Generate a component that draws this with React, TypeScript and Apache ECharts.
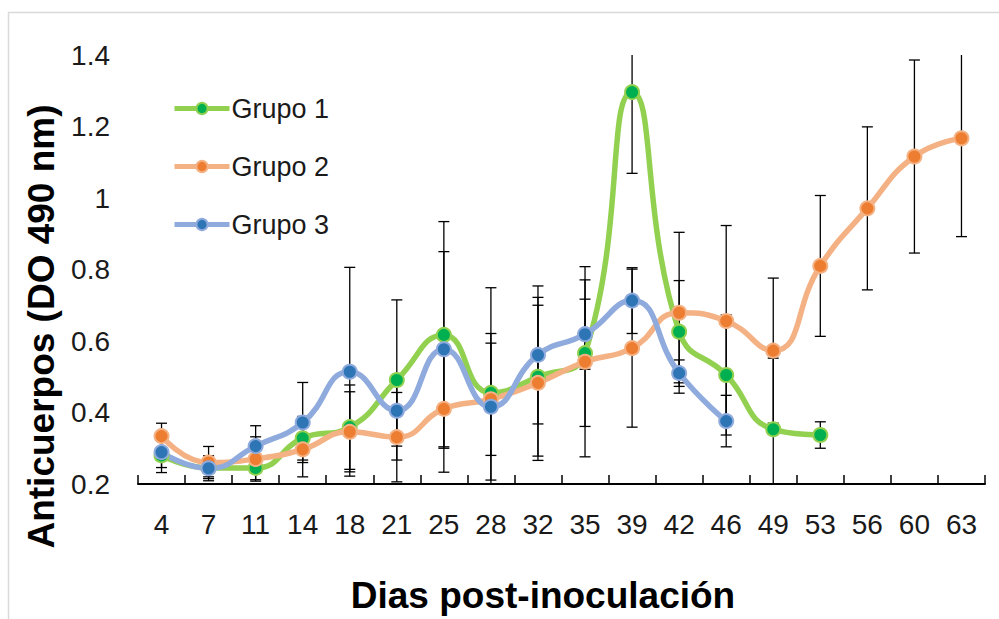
import React, { useEffect, useRef } from "react";
import * as echarts from "echarts";

const days = ["4", "7", "11", "14", "18", "21", "25", "28", "32", "35", "39", "42", "46", "49", "53", "56", "60", "63"];

const grupo1 = [0.28, 0.245, 0.245, 0.328, 0.359, 0.491, 0.617, 0.455, 0.5, 0.566, 1.296, 0.626, 0.505, 0.353, 0.337, null, null, null];
const grupo1Err = [0.048, 0.025, 0.033, 0.061, 0.118, 0.224, 0.317, 0.294, 0.222, 0.205, 0.227, 0.143, 0.168, 0.199, 0.037, null, null, null];

const grupo2 = [0.334, 0.26, 0.27, 0.297, 0.346, 0.331, 0.41, 0.437, 0.483, 0.542, 0.58, 0.679, 0.656, 0.573, 0.81, 0.971, 1.116, 1.167];
const grupo2Err = [0.036, 0.045, 0.062, 0.077, 0.112, 0.125, 0.177, 0.157, 0.217, 0.266, 0.221, 0.225, 0.267, 0.203, 0.197, 0.228, 0.27, 0.275];

const grupo3 = [0.289, 0.244, 0.306, 0.372, 0.514, 0.405, 0.577, 0.416, 0.561, 0.619, 0.713, 0.51, 0.376, null, null, null, null, null];
const grupo3Err = [0.043, 0.035, 0.057, 0.112, 0.292, 0.099, 0.273, 0.205, 0.193, 0.098, 0.092, 0.037, 0.072, null, null, null, null, null];

const yTicks = { min: 0.2, max: 1.4, interval: 0.2 };

const FONT = "'Liberation Sans', Arial, sans-serif";

function errSeries(name: string, vals: (number | null)[], errs: (number | null)[]) {
  const data: number[][] = [];
  vals.forEach((v, i) => {
    const e = errs[i];
    if (v != null && e != null) data.push([i, v - e, v + e]);
  });
  return {
    type: "custom",
    name: name + " err",
    data,
    encode: { x: 0, y: [1, 2] },
    clip: true,
    silent: true,
    z: 1,
    renderItem: (params: any, api: any) => {
      const x = api.value(0);
      const lo = api.coord([x, api.value(1)]);
      const hi = api.coord([x, api.value(2)]);
      const cw = 5.5;
      const st = { stroke: "#000", lineWidth: 1.3 };
      return {
        type: "group",
        children: [
          { type: "line", shape: { x1: lo[0], y1: lo[1], x2: hi[0], y2: hi[1] }, style: st },
          { type: "line", shape: { x1: lo[0] - cw, y1: lo[1], x2: lo[0] + cw, y2: lo[1] }, style: st },
          { type: "line", shape: { x1: hi[0] - cw, y1: hi[1], x2: hi[0] + cw, y2: hi[1] }, style: st },
        ],
      };
    },
  };
}

function lineSeries(name: string, vals: (number | null)[], lineColor: string, dotColor: string) {
  return {
    type: "line",
    name,
    data: vals,
    smooth: 0.5,
    z: 3,
    symbol: "circle",
    symbolSize: 14,
    showSymbol: true,
    lineStyle: { color: lineColor, width: 5.5 },
    itemStyle: { color: dotColor, borderColor: lineColor, borderWidth: 2 },
  };
}

export default function App() {
  const ref = useRef<HTMLDivElement>(null);
  useEffect(() => {
    if (!ref.current) return;
    const chart = echarts.init(ref.current, undefined, { renderer: "svg" });
    chart.setOption({
      animation: false,
      backgroundColor: "#fff",
      textStyle: { fontFamily: FONT },
      graphic: [
        {
          type: "rect",
          shape: { x: 8.5, y: 12.5, width: 1000, height: 700 },
          style: { fill: "none", stroke: "#d9d9d9", lineWidth: 1.5 },
          silent: true,
          z: 0,
        },
      ],
      grid: { left: 138, right: 14, top: 55, bottom: 135, outerBoundsMode: "none" },
      legend: {
        data: ["Grupo 1", "Grupo 2", "Grupo 3"],
        orient: "vertical",
        left: 172,
        top: 95,
        padding: 0,
        itemWidth: 55,
        itemHeight: 14,
        itemGap: 31,
        lineStyle: { width: 5 },
        textStyle: { fontSize: 27, color: "#1a1a1a", fontFamily: FONT, padding: [0, 0, 0, -3] },
      },
      xAxis: {
        type: "category",
        data: days,
        boundaryGap: true,
        name: "Dias post-inoculación",
        nameLocation: "middle",
        nameGap: 93,
        nameTextStyle: { fontSize: 37, fontWeight: "bold", color: "#000", fontFamily: FONT, padding: [0, 37, 0, 0] },
        axisLine: { show: true, lineStyle: { color: "#000", width: 2 } },
        axisTick: { show: true, inside: true, length: 9, lineStyle: { color: "#000", width: 1.5 } },
        axisLabel: { fontSize: 28, color: "#1a1a1a", margin: 26, fontFamily: FONT, interval: 0 },
        splitLine: { show: false },
      },
      yAxis: {
        type: "value",
        min: yTicks.min,
        max: yTicks.max,
        interval: yTicks.interval,
        name: "Anticuerpos (DO 490 nm)",
        nameLocation: "middle",
        nameRotate: 90,
        nameGap: 75,
        nameTextStyle: { fontSize: 37, fontWeight: "bold", color: "#000", fontFamily: FONT, padding: [0, 114, 0, 0] },
        axisLine: { show: false },
        axisTick: { show: false },
        splitLine: { show: false },
        axisLabel: {
          fontSize: 28,
          color: "#1a1a1a",
          margin: 28,
          fontFamily: FONT,
          formatter: (v: number) => String(Math.round(v * 10) / 10),
        },
      },
      series: [
        errSeries("Grupo 1", grupo1, grupo1Err),
        errSeries("Grupo 2", grupo2, grupo2Err),
        errSeries("Grupo 3", grupo3, grupo3Err),
        lineSeries("Grupo 1", grupo1, "#92D050", "#00B050"),
        lineSeries("Grupo 2", grupo2, "#F4B183", "#ED7D31"),
        lineSeries("Grupo 3", grupo3, "#8FAADC", "#2E75B6"),
      ],
    });
    return () => chart.dispose();
  }, []);
  return <div ref={ref} style={{ position: "fixed", left: 0, top: 0, width: 999, height: 619 }} />;
}
